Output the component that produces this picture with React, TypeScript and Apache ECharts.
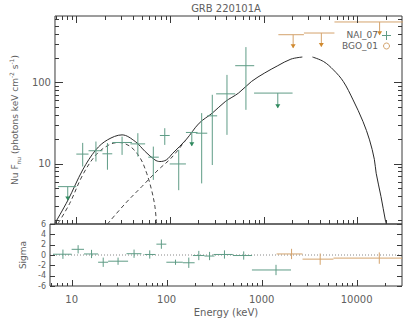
import React, { useEffect, useRef } from 'react';
import * as echarts from 'echarts';

// ---- axis ranges / ticks ----
const X_MIN = 5.92;
const X_MAX = 30000;
const Y_MIN = 1.8;
const Y_MAX = 660;
const xMajorTicks = [10, 100, 1000, 10000];
const xMinorTicks = [6, 7, 8, 9, 20, 30, 40, 50, 60, 70, 80, 90, 200, 300, 400, 500, 600, 700, 800, 900, 2000, 3000, 4000, 5000, 6000, 7000, 8000, 9000, 20000];
const yMajorTicks = [10, 100];
const yMinorTicks = [2, 3, 4, 5, 6, 7, 8, 9, 20, 30, 40, 50, 60, 70, 80, 90, 200, 300, 400, 500, 600];
const sigmaTicks = [-6, -4, -2, 0, 2, 4, 6];

// ---- NAI_07 spectrum (keV, photons keV cm^-2 s^-1) ----
const naiE = [8.1, 11.7, 16.2, 21.5, 30.8, 45.4, 66.4, 88, 124, 171, 218, 283, 406, 647, 1416];
const naiELo = [6.37, 10, 13.5, 19.0, 24.2, 37.8, 58.7, 78, 99.3, 148, 189, 250, 311, 497, 790];
const naiEHi = [10, 13.5, 19.0, 24.2, 39.3, 54.3, 76, 99.3, 148, 197, 250, 319, 497, 793, 2037];
const naiF = [5.2, 13.1, 14.4, 13.2, 18.2, 17.5, 12.0, 22.2, 9.9, 24.2, 23.7, 38.8, 72.4, 161, 74];
const naiFLo = [3.56, 9.2, 10.6, 8.4, 12.8, 12.2, 6.3, 17.0, 4.7, 16.6, 5.7, 9.6, 22.6, 46, 48.8];
const naiFHi = [5.2, 18.0, 18.7, 17.9, 21.5, 23.7, 16.2, 27.3, 14.8, 24.2, 41.9, 70.5, 124, 273, 74];
const naiUL = [1, 0, 0, 0, 0, 0, 0, 0, 0, 1, 0, 0, 0, 0, 1];
const naiSigma = [0.15, 1.1, 0.2, -1.4, -1.2, 0.25, 0.1, 2.1, -1.4, -1.5, -0.1, -0.2, 0.1, -0.1, -2.9];
const naiSigmaErr = [0.9, 0.8, 0.8, 0.9, 0.7, 0.8, 0.8, 0.9, 0.5, 1.0, 0.9, 0.8, 0.8, 0.8, 1.0];

// ---- BGO_01 spectrum (upper limits) ----
const bgoE = [2065, 4130, 17300];
const bgoELo = [1436, 2692, 5700];
const bgoEHi = [2692, 5700, 40000];
const bgoF = [388, 407, 557];
const bgoFLo = [268, 278, 388];
const bgoFHi = [388, 407, 557];
const bgoUL = [1, 1, 1];
const bgoSigma = [0.2, -0.8, -0.6];
const bgoSigmaErr = [1.0, 1.1, 1.1];

// ---- model curves ----
const totalE1 = [5.92, 8.16, 11.7, 16.2, 21.5, 30.8, 42.6, 54.3, 69.1, 78, 91.4, 107, 148, 205, 283, 390, 539, 743, 1026, 1416, 1954, 2590];
const totalF1 = [1.84, 3.56, 8.36, 14.8, 19.6, 22.6, 18.7, 14.1, 11.1, 10.6, 11.1, 13.4, 19.6, 31.5, 41.9, 58.2, 74, 103, 131, 161, 194, 206];
const totalE2 = [3320, 4370, 5560, 7080, 9010, 11500, 13500, 15200, 15900, 17900, 19900, 20400];
const totalF2 = [206, 181, 143, 103, 61, 33, 19.6, 11.3, 7.6, 3.92, 2.02, 1.8];
const bbE = [6.41, 8.51, 11.7, 16.2, 22.3, 28.4, 37.8, 48.1, 56.4, 63.6, 69.1, 71.8];
const bbF = [1.84, 3.24, 7.24, 12.8, 17.0, 18.2, 16.2, 11.7, 7.6, 4.73, 2.94, 1.8];
const cplE = [21.5, 33.5, 50, 74.8, 103, 148];
const cplF = [1.8, 3.24, 5.2, 8.36, 11.7, 19.6];

const GREEN = '#5f9c86';
const GREEN_DARK = '#2f8a5e';
const ORANGE = '#d4a36c';
const ORANGE_DARK = '#d0892e';
const FRAME = '#3a3a3a';
const TEXT = '#606060';
const FONT = 'DejaVu Sans';

function decadeLabel(v: number) {
  const l = Math.log10(v);
  return Math.abs(l - Math.round(l)) < 1e-6 ? String(Math.round(v)) : '';
}

function ln(x1: number, y1: number, x2: number, y2: number, stroke: string) {
  return { type: 'line', shape: { x1, y1, x2, y2 }, style: { stroke, lineWidth: 1 } };
}

function xTickSeries(values: number[], len: number, gridIdx: number, top: boolean, yDummy: number) {
  return {
    type: 'custom',
    xAxisIndex: gridIdx,
    yAxisIndex: gridIdx,
    silent: true,
    z: 10,
    data: values.map((v) => [v, yDummy]),
    encode: { x: 0, y: 1 },
    renderItem: (params: any, api: any) => {
      const cs = params.coordSys;
      const px = Math.round(api.coord([api.value(0), yDummy])[0]) + 0.5;
      const children: any[] = [ln(px, cs.y + cs.height, px, cs.y + cs.height - len, FRAME)];
      if (top) children.push(ln(px, cs.y, px, cs.y + len, FRAME));
      return { type: 'group', children };
    },
  };
}

function yTickSeries(values: number[], len: number, gridIdx: number, xDummy: number) {
  return {
    type: 'custom',
    xAxisIndex: gridIdx,
    yAxisIndex: gridIdx,
    silent: true,
    z: 10,
    data: values.map((v) => [xDummy, v]),
    encode: { x: 0, y: 1 },
    renderItem: (params: any, api: any) => {
      const cs = params.coordSys;
      const py = Math.round(api.coord([xDummy, api.value(1)])[1]) + 0.5;
      return {
        type: 'group',
        children: [ln(cs.x, py, cs.x + len, py, FRAME), ln(cs.x + cs.width, py, cs.x + cs.width - len, py, FRAME)],
      };
    },
  };
}

function spectrumSeries(name: string, E: number[], Elo: number[], Ehi: number[], F: number[], Flo: number[], Fhi: number[], UL: number[], color: string, arrowColor: string) {
  return {
    name,
    type: 'custom',
    xAxisIndex: 0,
    yAxisIndex: 0,
    clip: true,
    z: 5,
    data: E.map((e, i) => [e, F[i], Elo[i], Ehi[i], Flo[i], Fhi[i], UL[i]]),
    encode: { x: 0, y: 1 },
    renderItem: (params: any, api: any) => {
      const e = api.value(0), f = api.value(1);
      const c = api.coord([e, f]);
      const l = api.coord([api.value(2), f]);
      const h = api.coord([api.value(3), f]);
      const children: any[] = [ln(l[0], c[1], h[0], c[1], color)];
      if (api.value(6)) {
        const tip = api.coord([e, api.value(4)]);
        children.push(ln(c[0], c[1], c[0], tip[1], color));
        children.push({
          type: 'polygon',
          shape: { points: [[tip[0] - 2.5, tip[1] - 3.5], [tip[0] + 2.5, tip[1] - 3.5], [tip[0], tip[1] + 0.5]] },
          style: { fill: arrowColor },
        });
      } else {
        const lo = api.coord([e, api.value(4)]);
        const hi = api.coord([e, api.value(5)]);
        children.push(ln(c[0], lo[1], c[0], hi[1], color));
      }
      return { type: 'group', children };
    },
  };
}

function residualSeries(name: string, E: number[], Elo: number[], Ehi: number[], S: number[], Serr: number[], color: string) {
  return {
    name,
    type: 'custom',
    xAxisIndex: 1,
    yAxisIndex: 1,
    clip: true,
    z: 5,
    data: E.map((e, i) => [e, S[i], Elo[i], Ehi[i], Serr[i]]),
    encode: { x: 0, y: 1 },
    renderItem: (params: any, api: any) => {
      const e = api.value(0), s = api.value(1), err = api.value(4);
      const c = api.coord([e, s]);
      const l = api.coord([api.value(2), s]);
      const h = api.coord([api.value(3), s]);
      const lo = api.coord([e, s - err]);
      const hi = api.coord([e, s + err]);
      return {
        type: 'group',
        children: [ln(l[0], c[1], h[0], c[1], color), ln(c[0], lo[1], c[0], hi[1], color)],
      };
    },
  };
}

function curve(E: number[], F: number[], dashed: boolean) {
  return {
    type: 'line',
    xAxisIndex: 0,
    yAxisIndex: 0,
    showSymbol: false,
    symbol: 'none',
    smooth: 0.35,
    clip: true,
    silent: true,
    z: 4,
    data: E.map((e, i) => [e, F[i]]),
    lineStyle: { color: dashed ? '#444' : '#2a2a2a', width: 1, type: dashed ? [4, 3] : 'solid' },
  };
}

export default function App() {
  const ref = useRef<HTMLDivElement>(null);
  useEffect(() => {
    if (!ref.current) return;
    const chart = echarts.init(ref.current, undefined, { renderer: 'svg' });
    const axisLabelBase = { color: TEXT, fontFamily: FONT };
    chart.setOption({
      animation: false,
      backgroundColor: '#fff',
      grid: [
        { left: 50, top: 16, width: 352, height: 208, show: true, borderColor: FRAME, borderWidth: 1 },
        { left: 50, top: 224, width: 352, height: 62, show: true, borderColor: FRAME, borderWidth: 1 },
      ],
      xAxis: [
        {
          type: 'log', logBase: 10, gridIndex: 0, min: X_MIN, max: X_MAX,
          axisLine: { show: false }, axisTick: { show: false }, axisLabel: { show: false }, splitLine: { show: false },
        },
        {
          type: 'log', logBase: 10, gridIndex: 1, min: X_MIN, max: X_MAX,
          axisLine: { show: false }, axisTick: { show: false }, splitLine: { show: false },
          axisLabel: { ...axisLabelBase, fontSize: 10, margin: 8, formatter: decadeLabel, showMinLabel: false, showMaxLabel: false },
          name: 'Energy (keV)', nameLocation: 'middle', nameGap: 21,
          nameTextStyle: { color: TEXT, fontFamily: FONT, fontSize: 10 },
        },
      ],
      yAxis: [
        {
          type: 'log', logBase: 10, gridIndex: 0, min: Y_MIN, max: Y_MAX,
          axisLine: { show: false }, axisTick: { show: false }, splitLine: { show: false },
          axisLabel: { ...axisLabelBase, fontSize: 10, margin: 4, formatter: decadeLabel, showMinLabel: false, showMaxLabel: false },
          name: '{n|Nu F}{s|nu}{n| (photons keV cm}{p|-2}{n| s}{p|-1}{n|)}',
          nameLocation: 'middle', nameGap: 22, nameRotate: 90,
          nameTextStyle: {
            color: TEXT, fontFamily: FONT, fontSize: 9, lineHeight: 13,
            rich: {
              n: { color: TEXT, fontFamily: FONT, fontSize: 9, lineHeight: 13 },
              s: { color: TEXT, fontFamily: FONT, fontSize: 6, lineHeight: 13, verticalAlign: 'bottom' },
              p: { color: TEXT, fontFamily: FONT, fontSize: 6, lineHeight: 13, verticalAlign: 'top' },
            },
          },
        },
        {
          type: 'value', gridIndex: 1, min: -6, max: 6, interval: 2,
          axisLine: { show: false }, axisTick: { show: false }, splitLine: { show: false },
          axisLabel: { ...axisLabelBase, fontSize: 8, margin: 4 },
          name: 'Sigma', nameLocation: 'middle', nameGap: 22, nameRotate: 90,
          nameTextStyle: { color: TEXT, fontFamily: FONT, fontSize: 9 },
        },
      ],
      graphic: [
        { type: 'text', x: 226, y: 8, style: { text: 'GRB 220101A', align: 'center', verticalAlign: 'middle', fontSize: 10, fill: TEXT, fontFamily: FONT } },
        { type: 'text', x: 378, y: 35, style: { text: 'NAI_07', align: 'right', verticalAlign: 'middle', fontSize: 9, fill: TEXT, fontFamily: FONT } },
        { type: 'line', shape: { x1: 382, y1: 35.5, x2: 391, y2: 35.5 }, style: { stroke: GREEN, lineWidth: 1 } },
        { type: 'line', shape: { x1: 386.5, y1: 31, x2: 386.5, y2: 40 }, style: { stroke: GREEN, lineWidth: 1 } },
        { type: 'text', x: 378, y: 46, style: { text: 'BGO_01', align: 'right', verticalAlign: 'middle', fontSize: 9, fill: TEXT, fontFamily: FONT } },
        { type: 'circle', shape: { cx: 386.5, cy: 46, r: 3 }, style: { stroke: ORANGE, fill: 'none', lineWidth: 1 } },
      ],
      series: [
        xTickSeries(xMajorTicks, 7, 0, true, 10),
        xTickSeries(xMinorTicks, 4, 0, true, 10),
        yTickSeries(yMajorTicks, 8, 0, 100),
        yTickSeries(yMinorTicks, 4, 0, 100),
        xTickSeries(xMajorTicks, 6, 1, false, 0),
        xTickSeries(xMinorTicks, 3, 1, false, 0),
        yTickSeries(sigmaTicks, 5, 1, 100),
        curve(totalE1, totalF1, false),
        curve(totalE2, totalF2, false),
        curve(bbE, bbF, true),
        curve(cplE, cplF, true),
        spectrumSeries('NAI_07', naiE, naiELo, naiEHi, naiF, naiFLo, naiFHi, naiUL, GREEN, GREEN_DARK),
        spectrumSeries('BGO_01', bgoE, bgoELo, bgoEHi, bgoF, bgoFLo, bgoFHi, bgoUL, ORANGE, ORANGE_DARK),
        {
          type: 'line', xAxisIndex: 1, yAxisIndex: 1, showSymbol: false, symbol: 'none', silent: true, z: 3,
          data: [[X_MIN, 0], [X_MAX, 0]],
          lineStyle: { color: '#888', width: 1, type: [1, 2] },
        },
        residualSeries('NAI_07 res', naiE, naiELo, naiEHi, naiSigma, naiSigmaErr, GREEN),
        residualSeries('BGO_01 res', bgoE, bgoELo, bgoEHi, bgoSigma, bgoSigmaErr, ORANGE),
      ],
    });
    return () => chart.dispose();
  }, []);
  return <div ref={ref} style={{ position: 'fixed', left: 0, top: 0, width: 415, height: 320, background: '#fff' }} />;
}
